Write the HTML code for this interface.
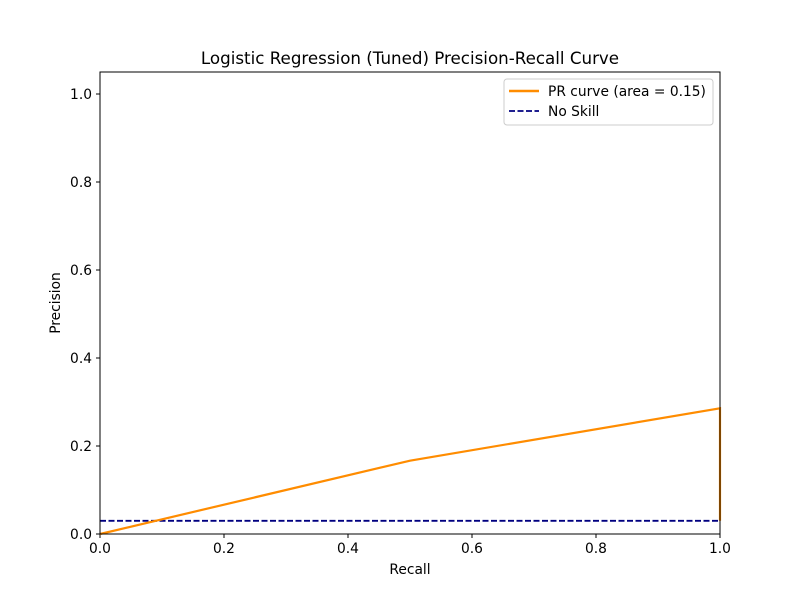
<!DOCTYPE html>
<html><head><meta charset="utf-8"><style>body{margin:0;background:#fff}svg{display:block;font-family:"DejaVu Sans","Liberation Sans",sans-serif}</style></head>
<body>
<svg width="800" height="600">
<rect width="800" height="600" fill="#fff"/>
<text x="410" y="64" text-anchor="middle" font-size="16.7">Logistic Regression (Tuned) Precision-Recall Curve</text>
<g id="axes"></g>
<g id="series"></g>
<rect x="100" y="72" width="620" height="462" fill="none" stroke="#000" stroke-width="1"/>
<text x="410" y="574" text-anchor="middle" font-size="13.8">Recall</text>
<text transform="translate(60,303) rotate(-90)" text-anchor="middle" font-size="13.8">Precision</text>
<g>
<rect x="504" y="79" width="209" height="46" rx="3" fill="#fff" stroke="#ccc"/>
<line x1="509" y1="91" x2="539" y2="91" stroke="#ff8c00" stroke-width="2.5"/>
<text x="548" y="96" font-size="13.8">PR curve (area = 0.15)</text>
<line x1="509" y1="111" x2="539" y2="111" stroke="#000080" stroke-width="1.8" stroke-dasharray="6,2.5"/>
<text x="548" y="116" font-size="13.8">No Skill</text>
</g>
</svg>
<script>
const recall=[0,0.5,1,1];
const precision=[0,0.1667,0.2857,0.03];
const noSkill=[0.03];
const xTicks=["0.0","0.2","0.4","0.6","0.8","1.0"];
const yTicks=["0.0","0.2","0.4","0.6","0.8","1.0"];
const NS="http://www.w3.org/2000/svg";
const X=v=>100+v*620, Y=v=>534-v*440;
const ax=document.getElementById('axes'), se=document.getElementById('series');
function mk(t,a,p){const e=document.createElementNS(NS,t);for(const k in a)e.setAttribute(k,a[k]);p.appendChild(e);return e;}
xTicks.forEach(t=>{const v=+t;
const l=mk('line',{x1:X(v),x2:X(v),y1:534,y2:538,stroke:'#000'},ax);


const tx=mk('text',{x:X(v),y:553,'text-anchor':'middle','font-size':13.8},ax);tx.textContent=t;

});
yTicks.forEach(t=>{const v=+t;
const l=mk('line',{x1:96,x2:100,y1:Y(v),y2:Y(v),stroke:'#000'},ax);


const tx=mk('text',{x:92,y:Y(v)+5,'text-anchor':'end','font-size':13.8},ax);tx.textContent=t;

});
const ns=mk('line',{x1:X(0),x2:X(1),y1:Y(noSkill[0]),y2:Y(noSkill[0]),stroke:'#000080','stroke-width':1.8,'stroke-dasharray':'6,2.5'},se);


const pr=mk('polyline',{points:recall.map((r,i)=>X(r)+','+Y(precision[i])).join(' '),fill:'none',stroke:'#ff8c00','stroke-width':2.2},se);


</script>
</body></html>
